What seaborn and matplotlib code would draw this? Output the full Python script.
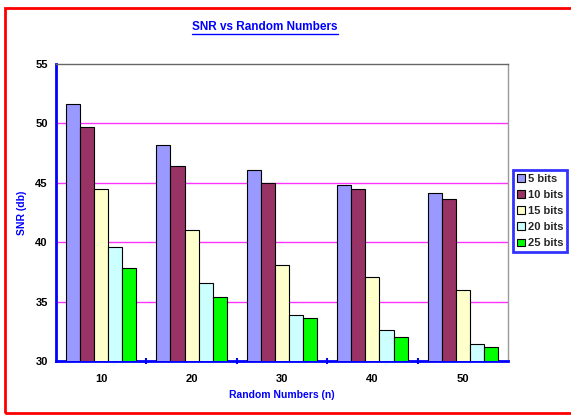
import matplotlib
matplotlib.use("Agg")
import matplotlib.pyplot as plt
import matplotlib.patches as mpatches
from matplotlib.lines import Line2D
from matplotlib.ticker import FixedLocator
import seaborn as sns
import pandas as pd

# Data
categories = ["10", "20", "30", "40", "50"]
series_names = ["5 bits", "10 bits", "15 bits", "20 bits", "25 bits"]
snr_5 = [51.6, 48.2, 46.1, 44.8, 44.1]
snr_10 = [49.7, 46.4, 45.0, 44.5, 43.6]
snr_15 = [44.5, 41.0, 38.1, 37.1, 36.0]
snr_20 = [39.6, 36.6, 33.9, 32.6, 31.4]
snr_25 = [37.8, 35.4, 33.6, 32.0, 31.2]
colors = ["#9999FF", "#993366", "#FFFFCC", "#CCFFFF", "#00FF00"]

rows = []
for name, vals in zip(series_names, [snr_5, snr_10, snr_15, snr_20, snr_25]):
    for cat, v in zip(categories, vals):
        rows.append({"n": cat, "bits": name, "snr": v})
df = pd.DataFrame(rows)

sns.set_theme(style="white")
plt.rcParams["font.family"] = ["Liberation Sans", "DejaVu Sans"]

fig = plt.figure(figsize=(5.71, 4.15), dpi=100)
ax = fig.add_axes([56 / 571, 1 - 361 / 415, (508 - 56) / 571, (361 - 64) / 415])

sns.barplot(data=df, x="n", y="snr", hue="bits", order=categories,
            hue_order=series_names, palette=colors, width=0.78,
            edgecolor="black", linewidth=0.8, saturation=1, ax=ax,
            legend=True, zorder=3)

ax.set_ylim(30, 55)
ax.set_xlim(-0.5, 4.5)
ax.set_yticks([30, 35, 40, 45, 50, 55])
for y in [35, 40, 45, 50]:
    ax.axhline(y, color="#FF33FF", lw=1.0, zorder=1)

for side in ["top", "right"]:
    ax.spines[side].set_color("#999999")
    ax.spines[side].set_linewidth(1.0)
ax.spines["top"].set_color("#666666")
for side in ["left", "bottom"]:
    ax.spines[side].set_color("#0000FF")
    ax.spines[side].set_linewidth(2.0)

ax.tick_params(axis="both", which="major", colors="#0000FF", direction="out",
               length=3, width=1.5, labelcolor="black", labelsize=8, pad=3)
ax.tick_params(axis="x", which="major", pad=6)
ax.xaxis.set_minor_locator(FixedLocator([0.5, 1.5, 2.5, 3.5]))
ax.tick_params(axis="x", which="minor", bottom=True, colors="#0000FF",
               direction="inout", length=5, width=1.5)
for lbl in ax.get_xticklabels() + ax.get_yticklabels():
    lbl.set_fontweight("bold")

ax.set_xlabel("Random Numbers (n)", color="#0000FF", fontsize=7.5,
              fontweight="bold", labelpad=5)
ax.set_ylabel("SNR (db)", color="#0000FF", fontsize=7.5,
              fontweight="bold", labelpad=6)

leg = ax.legend(loc="upper left", bbox_to_anchor=(513 / 571, 1 - 170 / 415),
                bbox_transform=fig.transFigure, frameon=True, fancybox=False,
                prop={"weight": "bold", "size": 8}, handlelength=0.7,
                handleheight=0.7, handletextpad=0.3, labelspacing=0.55,
                borderpad=0.35, borderaxespad=0)
leg.get_frame().set_edgecolor("#0000FF")
leg.get_frame().set_linewidth(2.0)
for h in leg.legend_handles:
    h.set_edgecolor("black")
    h.set_linewidth(0.8)

title = fig.text(265 / 571, 1 - 27 / 415, "SNR vs Random Numbers",
                 ha="center", va="center", color="#0000FF", fontsize=8.5,
                 fontweight="bold")

# Underline beneath the title
fig.canvas.draw()
bb = title.get_window_extent().transformed(fig.transFigure.inverted())
fig.add_artist(Line2D([bb.x0, bb.x1], [bb.y0 - 0.002, bb.y0 - 0.002],
                      transform=fig.transFigure, color="#0000FF", lw=1.0))

# Red frame around the chart
fig.add_artist(mpatches.Rectangle((5 / 571, 2 / 415), 1.0, 405 / 415,
                                  transform=fig.transFigure, fill=False,
                                  edgecolor="#FF0000", lw=2.0))

fig.savefig("out.png", dpi=100)
